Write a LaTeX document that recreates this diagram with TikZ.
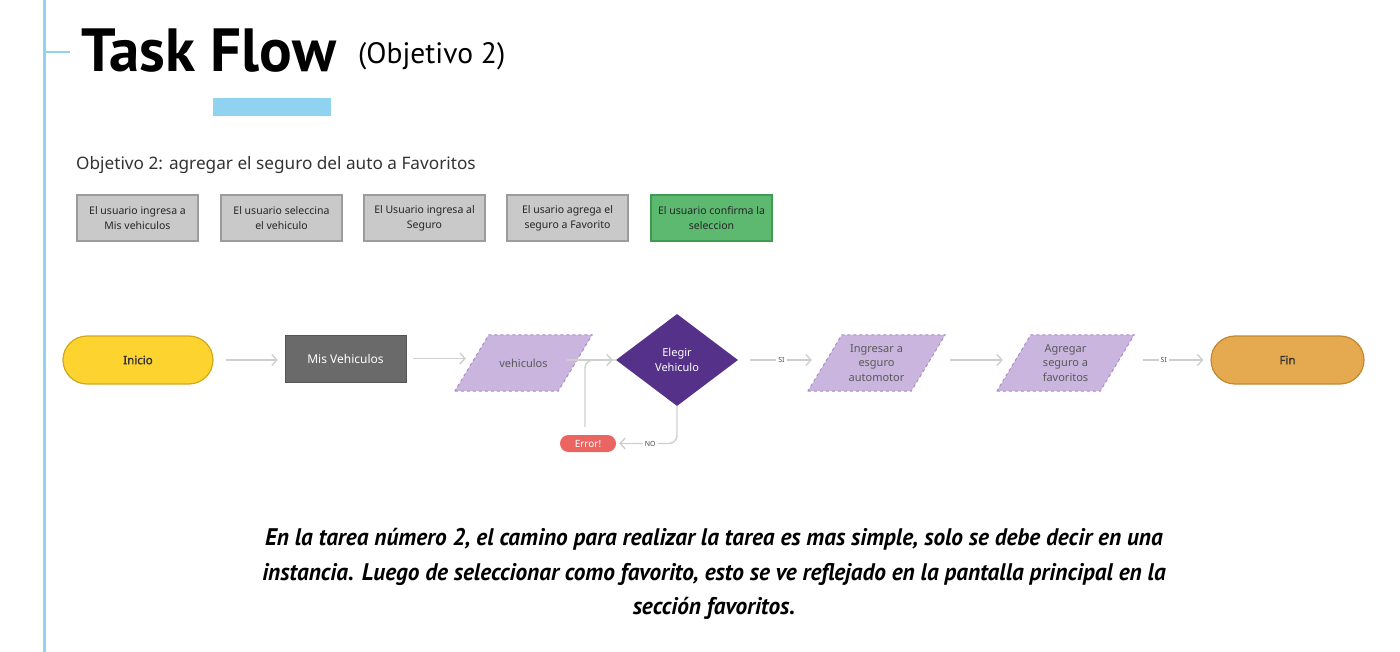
\documentclass[tikz,border=0pt]{standalone}
\usepackage{fontspec}
\setsansfont{Noto Sans}[AutoFakeBold=1.6]
\newfontfamily\titlefont{PT Sans}
\newfontfamily\notefont[FakeStretch=0.97]{PT Sans}
\usetikzlibrary{arrows.meta, calc, backgrounds, shapes.geometric}

\definecolor{sideblue}{HTML}{8FD3F0}
\definecolor{stepgray}{HTML}{C9C9C9}
\definecolor{stepline}{HTML}{9C9C9C}
\definecolor{okgreen}{HTML}{5DB96F}
\definecolor{okline}{HTML}{3F9A52}
\definecolor{startyel}{HTML}{FDD330}
\definecolor{startline}{HTML}{D2A81E}
\definecolor{screengray}{HTML}{6A6A6A}
\definecolor{datafill}{HTML}{C9B5DD}
\definecolor{dataline}{HTML}{A88BC9}
\definecolor{choice}{HTML}{563189}
\definecolor{endorange}{HTML}{E5AA50}
\definecolor{endline}{HTML}{BF8A2F}
\definecolor{errred}{HTML}{EA6461}
\definecolor{flowline}{HTML}{CFCFCF}

\begin{document}
\begin{tikzpicture}[x=1pt, y=-1pt, font=\sffamily,
  stepbox/.style={rectangle, draw=stepline, fill=stepgray, line width=1.2pt, minimum width=121pt, minimum height=46pt, inner sep=2pt, align=center, font=\sffamily\fontsize{10.5}{15}\selectfont, text=black!85},
  okbox/.style={stepbox, draw=okline, fill=okgreen},
  termn/.style={rectangle, rounded corners=24pt, line width=1.2pt, minimum width=150pt, minimum height=48pt, font=\sffamily\bfseries\fontsize{11.5}{13}\selectfont},
  screen/.style={rectangle, draw=screengray!80!black, fill=screengray, minimum width=121pt, minimum height=47pt, text=white, font=\sffamily\fontsize{12}{14}\selectfont},
  datan/.style={rectangle, minimum width=103pt, minimum height=56pt, inner sep=0pt, align=center, text=black!65, font=\sffamily\fontsize{11}{14.5}\selectfont},
  dataframe/.style={draw=dataline, dashed, line width=1pt, fill=datafill},
  decide/.style={diamond, fill=choice, minimum width=122pt, minimum height=92pt, inner sep=0pt, align=center, text=white, font=\sffamily\fontsize{11}{15}\selectfont},
  flow/.style={draw=flowline, line width=1.4pt, -{Straight Barb[length=5pt, width=11pt]}, shorten <=12pt, shorten >=7pt},
  lbl/.style={fill=white, inner sep=2pt, text=black!70, font=\sffamily\fontsize{7}{8}\selectfont}
]
  \useasboundingbox (0,0) rectangle (1400,652);

  % side rule and heading
  \draw[sideblue, line width=3pt] (44,0) -- (44,652);
  \draw[sideblue, line width=2.5pt] (44,52) -- (70,52);
  \node[anchor=base west, inner sep=0pt, font=\titlefont\bfseries\fontsize{61}{63}\selectfont] (title) at (81,72) {Task Flow};
  \node[anchor=base west, inner sep=0pt, font=\titlefont\fontsize{29.5}{32}\selectfont] (sub) at (358,64) {(Objetivo 2)};
  \fill[sideblue] (213,98) rectangle (331,116);

  \node[anchor=base west, inner sep=0pt, text=black!80, font=\sffamily\fontsize{17.2}{19}\selectfont] (goal) at (76,170) {Objetivo 2: agregar el seguro del auto a Favoritos};

  % steps
  \node[stepbox] (s1) at (137.5,218) {El usuario ingresa a\\Mis vehiculos};
  \node[stepbox] (s2) at (281.5,218) {El usuario seleccina\\el vehiculo};
  \node[stepbox] (s3) at (424.5,218) {El Usuario ingresa al\\Seguro};
  \node[stepbox] (s4) at (567.5,218) {El usario agrega el\\seguro a Favorito};
  \node[okbox]   (s5) at (711.5,218) {El usuario confirma la\\seleccion};

  % flow
  \node[termn, draw=startline, fill=startyel, text=black!80] (ini) at (138,360) {Inicio};
  \node[screen] (mis) at (345.5,358.5) {Mis Vehiculos};
  \node[datan] (veh) at (523.5,363) {vehiculos};
  \node[decide] (ele) at (677,360) {Elegir\\Vehiculo};
  \node[datan] (ing) at (876.5,363) {Ingresar a\\esguro\\automotor};
  \node[datan] (agr) at (1065.5,363) {Agregar\\seguro a\\favoritos};
  \node[termn, draw=endline, fill=endorange, text=black!80, minimum width=153pt] (fin) at (1287.5,360) {Fin};
  \node[rectangle, rounded corners=8.5pt, fill=errred, text=white, minimum width=56pt, minimum height=17pt, inner sep=0pt, font=\sffamily\fontsize{10}{12}\selectfont] (err) at (588,443.5) {Error!};

  \begin{scope}[on background layer]
    \foreach \d in {veh, ing, agr}
      \draw[dataframe] ($(\d.south west)+(-17,0)$) -- ($(\d.south east)+(-17,0)$)
        -- ($(\d.north east)+(17,0)$) -- ($(\d.north west)+(17,0)$) -- cycle;
  \end{scope}

  \draw[flow] (ini.east) -- (mis.west |- ini.east);
  \draw[flow, shorten <=7pt, shorten >=6pt] (mis.east) -- (veh.west |- mis.east);
  \draw[flow, shorten <=-8pt, shorten >=3pt] (veh.east |- ele.west) -- (ele.west);
  \draw[flow, shorten >=13pt] (ele.east) -- node[lbl] {SI} (ing.west |- ele.east);
  \draw[flow, shorten <=22pt, shorten >=11pt] (ing.east |- ele.east) -- (agr.west |- ele.east);
  \draw[flow, shorten <=26pt] (agr.east |- ele.east) -- node[lbl] {SI} (fin.west);
  \draw[flow, rounded corners=8pt, shorten <=0pt, shorten >=3pt] (ele.south) |- node[lbl, pos=0.72] {NO} (err.east);
  \draw[flowline, line width=1.4pt, rounded corners=8pt, shorten <=8pt] (err.north -| 585,0) |- (ele.west);

  % note
  \node[align=center, inner sep=0pt, font=\notefont\bfseries\itshape\fontsize{24}{34.5}\selectfont] (note) at (714,574) {En la tarea número 2, el camino para realizar la tarea es mas simple, solo se debe decir en una\\instancia. Luego de seleccionar como favorito, esto se ve reflejado en la pantalla principal en la\\sección favoritos.};
\end{tikzpicture}
\end{document}
